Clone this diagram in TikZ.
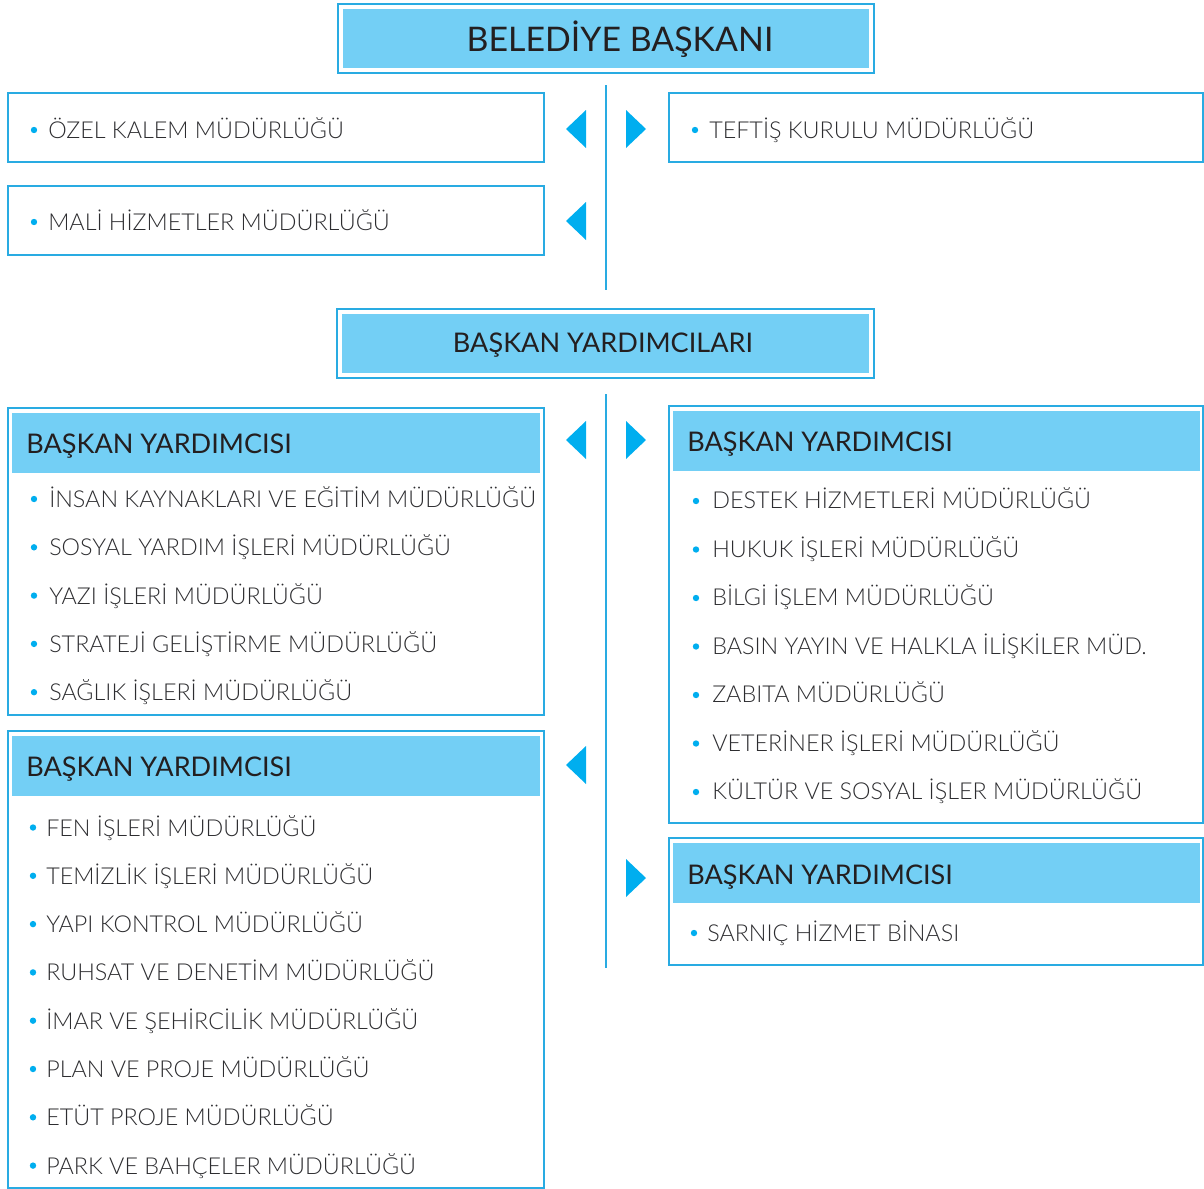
\documentclass[tikz,border=0pt]{standalone}
\usepackage{fontspec}
\setmainfont{Lato}
\newfontfamily\lightfont{Lato Light}
\usetikzlibrary{positioning}
\definecolor{framecol}{RGB}{41,171,226}
\definecolor{headfill}{RGB}{115,207,245}
\definecolor{tricol}{RGB}{0,174,239}
\definecolor{headcol}{RGB}{35,31,32}
\definecolor{itemcol}{RGB}{45,45,48}
\tikzset{
  frame/.style={draw=framecol, line width=1.3pt},
  headbar/.style={fill=headfill},
  title/.style={anchor=base, inner sep=0pt, text=headcol, font=\fontsize{25.4}{30}\selectfont},
  headtext/.style={anchor=base west, inner sep=0pt, text=headcol, font=\fontsize{20.3}{24}\selectfont},
  itemtext/.style={anchor=base west, inner sep=0pt, text=itemcol, font=\lightfont\fontsize{17.5}{21}\selectfont},
  dot/.style={fill=tricol},
  tri/.style={fill=tricol},
  vline/.style={draw=framecol, line width=1.5pt}
}
\begin{document}
\begin{tikzpicture}[x=0.75pt, y=-0.75pt]
\useasboundingbox (0,0) rectangle (1204,1189);

% belediye baskani
\draw[frame] (338,4) rectangle (874,73);
\fill[headbar] (343,9) rectangle (869,68);
\node[title] (mayor) at (620,51) {BELEDİYE BAŞKANI};

% top connector
\coordinate (vtop1) at (606,85);
\coordinate (vbot1) at (606,290);
\draw[vline] (vtop1) -- (vbot1);

% top left / right offices
\draw[frame] (8,93) rectangle (544,162);
\fill[dot] (34,130) circle (2.4pt);
\node[itemtext] (ozel) at (48,138.5) {ÖZEL KALEM MÜDÜRLÜĞÜ};
\draw[frame] (8,186) rectangle (544,255);
\fill[dot] (34,222) circle (2.4pt);
\node[itemtext] (mali) at (48,230.5) {MALİ HİZMETLER MÜDÜRLÜĞÜ};
\draw[frame] (669,93) rectangle (1203,162);
\fill[dot] (695,130) circle (2.4pt);
\node[itemtext] (teftis) at (709,138.5) {TEFTİŞ KURULU MÜDÜRLÜĞÜ};

\fill[tri] (566,129) -- (586,110) -- (586,148) -- cycle;
\fill[tri] (646,129) -- (626,110) -- (626,148) -- cycle;
\fill[tri] (566,221) -- (586,202) -- (586,240) -- cycle;

% baskan yardimcilari
\draw[frame] (337,309) rectangle (874,378);
\fill[headbar] (342,314) rectangle (869,373);
\node[headtext, anchor=base] (deputies) at (603,352) {BAŞKAN YARDIMCILARI};

\coordinate (vtop2) at (606,394);
\coordinate (vbot2) at (606,968);
\draw[vline] (vtop2) -- (vbot2);

% left group 1
\draw[frame] (8,408) rectangle (544,715);
\fill[headbar] (12,413) rectangle (540,473);
\node[headtext] (dA) at (26,453) {BAŞKAN YARDIMCISI};
\foreach \t [count=\i from 0] in {İNSAN KAYNAKLARI VE EĞİTİM MÜDÜRLÜĞÜ, SOSYAL YARDIM İŞLERİ MÜDÜRLÜĞÜ, YAZI İŞLERİ MÜDÜRLÜĞÜ, STRATEJİ GELİŞTİRME MÜDÜRLÜĞÜ, SAĞLIK İŞLERİ MÜDÜRLÜĞÜ}{
  \fill[dot] (34,499+48.3*\i) circle (2.4pt);
  \node[itemtext] (a\i) at (49,507.5+48.3*\i) {\t};
}

% left group 2
\draw[frame] (8,731) rectangle (544,1188);
\fill[headbar] (12,736) rectangle (540,796);
\node[headtext] (dB) at (26,776) {BAŞKAN YARDIMCISI};
\foreach \t [count=\i from 0] in {FEN İŞLERİ MÜDÜRLÜĞÜ, TEMİZLİK İŞLERİ MÜDÜRLÜĞÜ, YAPI KONTROL MÜDÜRLÜĞÜ, RUHSAT VE DENETİM MÜDÜRLÜĞÜ, İMAR VE ŞEHİRCİLİK MÜDÜRLÜĞÜ, PLAN VE PROJE MÜDÜRLÜĞÜ, ETÜT PROJE MÜDÜRLÜĞÜ, PARK VE BAHÇELER MÜDÜRLÜĞÜ}{
  \fill[dot] (33,827.5+48.3*\i) circle (2.4pt);
  \node[itemtext] (b\i) at (46,836+48.3*\i) {\t};
}

% right group 1
\draw[frame] (669,406) rectangle (1203,823);
\fill[headbar] (673,411) rectangle (1200,471);
\node[headtext] (dC) at (687,451) {BAŞKAN YARDIMCISI};
\foreach \t [count=\i from 0] in {DESTEK HİZMETLERİ MÜDÜRLÜĞÜ, HUKUK İŞLERİ MÜDÜRLÜĞÜ, BİLGİ İŞLEM MÜDÜRLÜĞÜ, BASIN YAYIN VE HALKLA İLİŞKİLER MÜD., ZABITA MÜDÜRLÜĞÜ, VETERİNER İŞLERİ MÜDÜRLÜĞÜ, KÜLTÜR VE SOSYAL İŞLER MÜDÜRLÜĞÜ}{
  \fill[dot] (696,501+48.5*\i) circle (2.4pt);
  \node[itemtext] (c\i) at (712,508.5+48.5*\i) {\t};
}

% right group 2
\draw[frame] (669,838) rectangle (1203,965);
\fill[headbar] (673,843) rectangle (1200,903);
\node[headtext] (dD) at (687,884) {BAŞKAN YARDIMCISI};
\fill[dot] (694,933) circle (2.4pt);
\node[itemtext] (d0) at (707,941) {SARNIÇ HİZMET BİNASI};

% pointers
\fill[tri] (566,440) -- (586,421) -- (586,459) -- cycle;
\fill[tri] (646,440) -- (626,421) -- (626,459) -- cycle;
\fill[tri] (566,765) -- (586,746) -- (586,784) -- cycle;
\fill[tri] (646,878) -- (626,859) -- (626,897) -- cycle;
\end{tikzpicture}
\end{document}
